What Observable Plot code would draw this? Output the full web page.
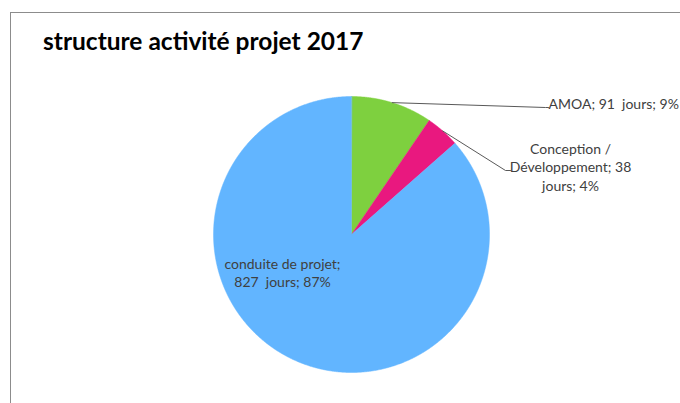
<!DOCTYPE html>
<html>
<head>
<meta charset="utf-8">
<script src="https://cdn.jsdelivr.net/npm/d3@7"></script>
<script src="https://cdn.jsdelivr.net/npm/@observablehq/plot@0.6"></script>
<style>
  body { margin: 0; background: #fff; }
  #wrap { position: relative; width: 680px; height: 403px; overflow: hidden; font-family: Lato, "Open Sans", sans-serif; }
  #frame { position: absolute; left: 10px; top: 12px; width: 700px; height: 420px; border-left: 1px solid #8c8c8c; border-top: 1px solid #8c8c8c; }
  #title { position: absolute; left: 43px; top: 26px; font-size: 24.5px; font-weight: bold; color: #000; white-space: nowrap; }
  #plot { position: absolute; left: 0; top: 0; }
</style>
</head>
<body>
<div id="wrap">
  <div id="frame"></div>
  <div id="title">structure activité projet 2017</div>
  <div id="plot"></div>
</div>
<script>
// ---- data ----
const categories = ["AMOA", "Conception / Développement", "conduite de projet"];
const days = [91, 38, 827];
const percents = [9, 4, 87];
const labels = [
  "AMOA; 91  jours; 9%",
  "Conception /\nDéveloppement; 38\njours; 4%",
  "conduite de projet;\n827  jours; 87%"
];
const colors = ["#7ed03f", "#e9187f", "#62b5ff"];

// ---- layout ----
const W = 680, H = 403;
const cx = 351, cy = 234, R = 138;

const pie = d3.pie().sort(null).value(d => d.days);
const rows = categories.map((c, i) => ({name: c, days: days[i], label: labels[i]}));
const arcs = pie(rows);

const pt = (a, r) => [cx + r * Math.sin(a), cy - r * Math.cos(a)];

// slice polygons
const slicePts = [];
arcs.forEach(a => {
  slicePts.push({name: a.data.name, x: cx, y: cy});
  const n = Math.max(2, Math.ceil((a.endAngle - a.startAngle) / 0.005));
  for (let k = 0; k <= n; k++) {
    const t = a.startAngle + (a.endAngle - a.startAngle) * k / n;
    const [x, y] = pt(t, R);
    slicePts.push({name: a.data.name, x, y});
  }
});

// leader lines (label anchor positions are layout)
const anchors = [
  {elbow: [545, 107], end: [548, 107]},
  {elbow: [505, 170], end: [510, 170]},
  null
];
const leaderPts = [];
arcs.forEach((a, i) => {
  const an = anchors[i];
  if (!an) return;
  const mid = (a.startAngle + a.endAngle) / 2;
  const [x0, y0] = pt(mid, R);
  leaderPts.push({name: a.data.name, x: x0, y: y0});
  leaderPts.push({name: a.data.name, x: an.elbow[0], y: an.elbow[1]});
  leaderPts.push({name: a.data.name, x: an.end[0], y: an.end[1]});
});

const textPos = [
  {x: 548, y: 103},
  {x: 570, y: 166},
  {x: 282, y: 272}
];
const textRows = labels.map((l, i) => ({label: l, ...textPos[i]}));

const textStyle = {x: "x", y: "y", text: "label", fill: "#404040", fontSize: 14, lineHeight: 1.3};

const chart = Plot.plot({
  width: W, height: H,
  margin: 0,
  x: {domain: [0, W], range: [0, W], axis: null},
  y: {domain: [0, H], range: [0, H], axis: null},
  color: {domain: categories, range: colors},
  style: {background: "transparent", fontFamily: "Lato, 'Open Sans', sans-serif"},
  marks: [
    Plot.line(slicePts, {x: "x", y: "y", z: "name", fill: "name", stroke: "name", strokeWidth: 0.5, curve: "linear-closed"}),
    Plot.line(leaderPts, {x: "x", y: "y", z: "name", stroke: "#595959", strokeWidth: 1}),
    Plot.text(textRows.slice(0, 1), {...textStyle, textAnchor: "start"}),
    Plot.text(textRows.slice(1), {...textStyle, textAnchor: "middle"})
  ]
});
document.getElementById("plot").appendChild(chart);
</script>
</body>
</html>
